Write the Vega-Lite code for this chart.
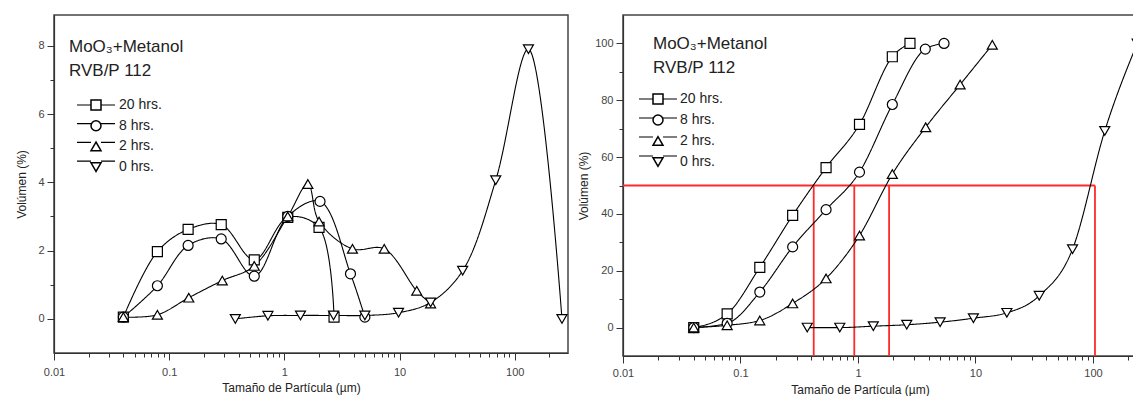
{
  "$schema": "https://vega.github.io/schema/vega-lite/v6.json",
  "autosize": {"type": "pad"},
  "padding": {"left": 14, "top": 14, "right": 0, "bottom": 0},
  "background": "white",
  "datasets": {
    "volumen": [
      {"serie": "20 hrs.", "d": 0.04, "v": 0.05},
      {"serie": "20 hrs.", "d": 0.079, "v": 1.97},
      {"serie": "20 hrs.", "d": 0.146, "v": 2.62},
      {"serie": "20 hrs.", "d": 0.283, "v": 2.76},
      {"serie": "20 hrs.", "d": 0.548, "v": 1.73},
      {"serie": "20 hrs.", "d": 1.07, "v": 2.97},
      {"serie": "20 hrs.", "d": 2.0, "v": 2.68},
      {"serie": "20 hrs.", "d": 2.7, "v": 0.05},
      {"serie": "8  hrs.", "d": 0.04, "v": 0.05},
      {"serie": "8  hrs.", "d": 0.079, "v": 0.97},
      {"serie": "8  hrs.", "d": 0.146, "v": 2.15},
      {"serie": "8  hrs.", "d": 0.283, "v": 2.34},
      {"serie": "8  hrs.", "d": 0.548, "v": 1.25},
      {"serie": "8  hrs.", "d": 1.07, "v": 3.0},
      {"serie": "8  hrs.", "d": 2.04, "v": 3.44},
      {"serie": "8  hrs.", "d": 3.75, "v": 1.32},
      {"serie": "8  hrs.", "d": 5.0, "v": 0.05},
      {"serie": "2  hrs.", "d": 0.04, "v": 0.05},
      {"serie": "2  hrs.", "d": 0.079, "v": 0.12},
      {"serie": "2  hrs.", "d": 0.148, "v": 0.62},
      {"serie": "2  hrs.", "d": 0.289, "v": 1.12},
      {"serie": "2  hrs.", "d": 0.548, "v": 1.55},
      {"serie": "2  hrs.", "d": 1.07, "v": 3.0},
      {"serie": "2  hrs.", "d": 1.6, "v": 3.95},
      {"serie": "2  hrs.", "d": 2.0, "v": 2.85},
      {"serie": "2  hrs.", "d": 3.9, "v": 2.05},
      {"serie": "2  hrs.", "d": 7.36, "v": 2.05},
      {"serie": "2  hrs.", "d": 14.1, "v": 0.82},
      {"serie": "2  hrs.", "d": 18.6, "v": 0.45},
      {"serie": "0  hrs.", "d": 0.375, "v": 0.0},
      {"serie": "0  hrs.", "d": 0.72, "v": 0.09},
      {"serie": "0  hrs.", "d": 1.38, "v": 0.1},
      {"serie": "0  hrs.", "d": 2.67, "v": 0.1},
      {"serie": "0  hrs.", "d": 5.0, "v": 0.1},
      {"serie": "0  hrs.", "d": 9.8, "v": 0.18},
      {"serie": "0  hrs.", "d": 18.6, "v": 0.48},
      {"serie": "0  hrs.", "d": 35.3, "v": 1.41},
      {"serie": "0  hrs.", "d": 68.4, "v": 4.06},
      {"serie": "0  hrs.", "d": 131.5, "v": 7.9},
      {"serie": "0  hrs.", "d": 257, "v": 0.0}
    ],
    "acumulado": [
      {"serie": "20 hrs.", "d": 0.04, "v": 0},
      {"serie": "20 hrs.", "d": 0.077, "v": 4.8},
      {"serie": "20 hrs.", "d": 0.146, "v": 21.2},
      {"serie": "20 hrs.", "d": 0.278, "v": 39.5},
      {"serie": "20 hrs.", "d": 0.535, "v": 56.3},
      {"serie": "20 hrs.", "d": 1.03, "v": 71.5},
      {"serie": "20 hrs.", "d": 1.96, "v": 95.3},
      {"serie": "20 hrs.", "d": 2.77, "v": 100},
      {"serie": "8  hrs.", "d": 0.04, "v": 0},
      {"serie": "8  hrs.", "d": 0.077, "v": 1.5},
      {"serie": "8  hrs.", "d": 0.146, "v": 12.5},
      {"serie": "8  hrs.", "d": 0.278, "v": 28.4},
      {"serie": "8  hrs.", "d": 0.535, "v": 41.5},
      {"serie": "8  hrs.", "d": 1.03, "v": 54.7},
      {"serie": "8  hrs.", "d": 1.96, "v": 78.5},
      {"serie": "8  hrs.", "d": 3.74, "v": 98},
      {"serie": "8  hrs.", "d": 5.4, "v": 100},
      {"serie": "2  hrs.", "d": 0.04, "v": 0},
      {"serie": "2  hrs.", "d": 0.077, "v": 0.8},
      {"serie": "2  hrs.", "d": 0.146, "v": 2.5},
      {"serie": "2  hrs.", "d": 0.278, "v": 8.5},
      {"serie": "2  hrs.", "d": 0.535, "v": 17.3},
      {"serie": "2  hrs.", "d": 1.03, "v": 32.4},
      {"serie": "2  hrs.", "d": 1.96, "v": 54},
      {"serie": "2  hrs.", "d": 3.77, "v": 70.5},
      {"serie": "2  hrs.", "d": 7.4, "v": 85.5},
      {"serie": "2  hrs.", "d": 13.9, "v": 99.5},
      {"serie": "0  hrs.", "d": 0.37, "v": 0},
      {"serie": "0  hrs.", "d": 0.70, "v": 0},
      {"serie": "0  hrs.", "d": 1.35, "v": 0.5},
      {"serie": "0  hrs.", "d": 2.6, "v": 1},
      {"serie": "0  hrs.", "d": 5.0, "v": 1.9},
      {"serie": "0  hrs.", "d": 9.6, "v": 3.3},
      {"serie": "0  hrs.", "d": 18.5, "v": 5.2},
      {"serie": "0  hrs.", "d": 34.9, "v": 11.2},
      {"serie": "0  hrs.", "d": 67, "v": 27.6},
      {"serie": "0  hrs.", "d": 126, "v": 69.2},
      {"serie": "0  hrs.", "d": 238, "v": 100}
    ],
    "d50": [
      {"x": 0.01, "x2": 104, "y": 50, "y2": 50},
      {"x": 0.42, "x2": 0.42, "y": -10, "y2": 50},
      {"x": 0.93, "x2": 0.93, "y": -10, "y2": 50},
      {"x": 1.84, "x2": 1.84, "y": -10, "y2": 50},
      {"x": 104, "x2": 104, "y": -10, "y2": 50}
    ]
  },
  "spacing": 7,
  "resolve": {
    "scale": {"x": "independent", "y": "independent", "shape": "independent", "strokeDash": "independent"},
    "legend": {"shape": "independent", "strokeDash": "independent"},
    "axis": {"x": "independent", "y": "independent"}
  },
  "hconcat": [
    {
      "width": 514,
      "height": 338,
      "title": {
        "text": ["MoO₃+Metanol", "RVB/P 112"],
        "anchor": "start",
        "frame": "group",
        "orient": "top",
        "baseline": "alphabetic",
        "offset": -78,
        "dx": 15,
        "fontSize": 17,
        "lineHeight": 24,
        "font": "Liberation Sans",
        "fontWeight": "normal",
        "color": "#222"
      },
      "data": {"name": "volumen"},
      "encoding": {
        "x": {
          "field": "d", "type": "quantitative",
          "scale": {"type": "log", "domain": [0.01, 290], "nice": false},
          "axis": {
            "title": "Tamaño de Partícula (µm)",
            "titleX": 237,
            "values": [0.01,0.02,0.03,0.04,0.05,0.06,0.07,0.08,0.09,0.1,0.2,0.3,0.4,0.5,0.6,0.7,0.8,0.9,1,2,3,4,5,6,7,8,9,10,20,30,40,50,60,70,80,90,100,200],
            "format": "~g",
            "labelExpr": "abs(log(datum.value)/LN10 - round(log(datum.value)/LN10)) < 0.001 ? datum.label : ''",
            "tickSize": {"condition": {"test": "abs(log(datum.value)/LN10 - round(log(datum.value)/LN10)) < 0.001", "value": 7}, "value": 4},
            "labelOverlap": false, "labelFlush": false, "labelBound": false,
            "labelPadding": 6, "minExtent": 27, "maxExtent": 27, "titlePadding": 2
          }
        },
        "y": {
          "field": "v", "type": "quantitative",
          "scale": {"domain": [-1, 8.9], "nice": false, "zero": false},
          "axis": {
            "title": "Volúmen (%)",
            "values": [0,1,2,3,4,5,6,7,8],
            "labelExpr": "datum.value % 2 === 0 ? datum.label : ''",
            "tickSize": {"condition": {"test": "datum.value % 2 === 0", "value": 7}, "value": 4},
            "labelOverlap": false, "labelPadding": 3,
            "minExtent": 22, "maxExtent": 22, "titlePadding": 4
          }
        }
      },
      "layer": [
        {
          "transform": [{"calculate": "datum.serie", "as": "serie_linea"}],
          "mark": {"type": "line", "interpolate": "catmull-rom", "color": "black", "strokeWidth": 1.1, "clip": true},
          "encoding": {
            "strokeDash": {
              "field": "serie_linea", "type": "nominal",
              "scale": {"range": [[1, 0], [1, 0], [1, 0], [1, 0]]},
              "legend": {
                "orient": "none", "legendX": 35, "legendY": 83, "title": null,
                "symbolType": "M-3.8,0H-1M1,0H3.8", "symbolSize": 100,
                "symbolStrokeColor": "black", "symbolStrokeWidth": 1.2,
                "labelOffset": 16, "labelFontSize": 14, "labelFont": "Liberation Sans",
                "labelExpr": "''", "rowPadding": 4.7, "padding": 0
              }
            }
          }
        },
        {
          "mark": {"type": "point", "filled": true, "fill": "white", "stroke": "black", "strokeWidth": 1.2, "size": 100, "opacity": 1, "clip": true},
          "encoding": {
            "shape": {
              "field": "serie", "type": "nominal",
              "scale": {"domain": ["20 hrs.", "8  hrs.", "2  hrs.", "0  hrs."], "range": ["square", "circle", "triangle-up", "triangle-down"]},
              "legend": {
                "orient": "none", "legendX": 35, "legendY": 83, "title": null,
                "symbolSize": 100, "labelOffset": 16, "labelFontSize": 14,
                "labelFont": "Liberation Sans", "labelColor": "#222", "rowPadding": 4.7, "padding": 0
              }
            }
          }
        }
      ]
    },
    {
      "width": 515,
      "height": 341,
      "title": {
        "text": ["MoO₃+Metanol", "RVB/P 112"],
        "anchor": "start",
        "frame": "group",
        "orient": "top",
        "baseline": "alphabetic",
        "offset": -75,
        "dx": 30,
        "fontSize": 17,
        "lineHeight": 24,
        "font": "Liberation Sans",
        "fontWeight": "normal",
        "color": "#222"
      },
      "layer": [
        {
          "data": {"name": "d50"},
          "mark": {"type": "rule", "color": "#ff2a2a", "strokeWidth": 1.8, "clip": true},
          "encoding": {
            "x": {"field": "x", "type": "quantitative"},
            "x2": {"field": "x2"},
            "y": {"field": "y", "type": "quantitative"},
            "y2": {"field": "y2"}
          }
        },
        {
          "data": {"name": "acumulado"},
          "transform": [{"calculate": "datum.serie", "as": "serie_linea"}],
          "mark": {"type": "line", "interpolate": "monotone", "color": "black", "strokeWidth": 1.1, "clip": true},
          "encoding": {
            "x": {"field": "d", "type": "quantitative"},
            "y": {"field": "v", "type": "quantitative"},
            "strokeDash": {
              "field": "serie_linea", "type": "nominal",
              "scale": {"range": [[1, 0], [1, 0], [1, 0], [1, 0]]},
              "legend": {
                "orient": "none", "legendX": 28, "legendY": 77, "title": null,
                "symbolType": "M-3.8,0H-1M1,0H3.8", "symbolSize": 100,
                "symbolStrokeColor": "black", "symbolStrokeWidth": 1.2,
                "labelOffset": 15, "labelFontSize": 14, "labelFont": "Liberation Sans",
                "labelExpr": "''", "rowPadding": 5, "padding": 0
              }
            }
          }
        },
        {
          "data": {"name": "acumulado"},
          "mark": {"type": "point", "filled": true, "fill": "white", "stroke": "black", "strokeWidth": 1.2, "size": 100, "opacity": 1, "clip": true},
          "encoding": {
            "x": {"field": "d", "type": "quantitative"},
            "y": {"field": "v", "type": "quantitative"},
            "shape": {
              "field": "serie", "type": "nominal",
              "scale": {"domain": ["20 hrs.", "8  hrs.", "2  hrs.", "0  hrs."], "range": ["square", "circle", "triangle-up", "triangle-down"]},
              "legend": {
                "orient": "none", "legendX": 28, "legendY": 77, "title": null,
                "symbolSize": 100, "labelOffset": 15, "labelFontSize": 14,
                "labelFont": "Liberation Sans", "labelColor": "#222", "rowPadding": 5, "padding": 0
              }
            }
          }
        }
      ],
      "encoding": {
        "x": {
          "field": "d", "type": "quantitative",
          "scale": {"type": "log", "domain": [0.01, 241.7], "nice": false},
          "axis": {
            "title": "Tamaño de Partícula (µm)",
            "titleX": 237,
            "values": [0.01,0.02,0.03,0.04,0.05,0.06,0.07,0.08,0.09,0.1,0.2,0.3,0.4,0.5,0.6,0.7,0.8,0.9,1,2,3,4,5,6,7,8,9,10,20,30,40,50,60,70,80,90,100,200],
            "format": "~g",
            "labelExpr": "abs(log(datum.value)/LN10 - round(log(datum.value)/LN10)) < 0.001 ? datum.label : ''",
            "tickSize": {"condition": {"test": "abs(log(datum.value)/LN10 - round(log(datum.value)/LN10)) < 0.001", "value": 7}, "value": 4},
            "labelOverlap": false, "labelFlush": false, "labelBound": false,
            "labelPadding": 4, "minExtent": 24, "maxExtent": 24, "titlePadding": 4
          }
        },
        "y": {
          "field": "v", "type": "quantitative",
          "scale": {"domain": [-10, 110], "nice": false, "zero": false},
          "axis": {
            "title": "Volúmen (%)",
            "values": [0,10,20,30,40,50,60,70,80,90,100],
            "labelExpr": "datum.value % 20 === 0 ? datum.label : ''",
            "tickSize": {"condition": {"test": "datum.value % 20 === 0", "value": 7}, "value": 4},
            "labelOverlap": false, "labelPadding": 3,
            "minExtent": 29, "maxExtent": 29, "titlePadding": 4
          }
        }
      }
    }
  ],
  "config": {
    "view": {"stroke": "#444", "strokeWidth": 1.5},
    "axis": {
      "grid": false,
      "domainColor": "#333",
      "domainWidth": 1.2,
      "tickColor": "#333",
      "tickWidth": 1,
      "labelColor": "#444",
      "labelFont": "Liberation Sans",
      "labelFontSize": 11,
      "titleFont": "Liberation Sans",
      "titleFontSize": 12,
      "titleFontWeight": "normal",
      "titleColor": "#222"
    }
  }
}
